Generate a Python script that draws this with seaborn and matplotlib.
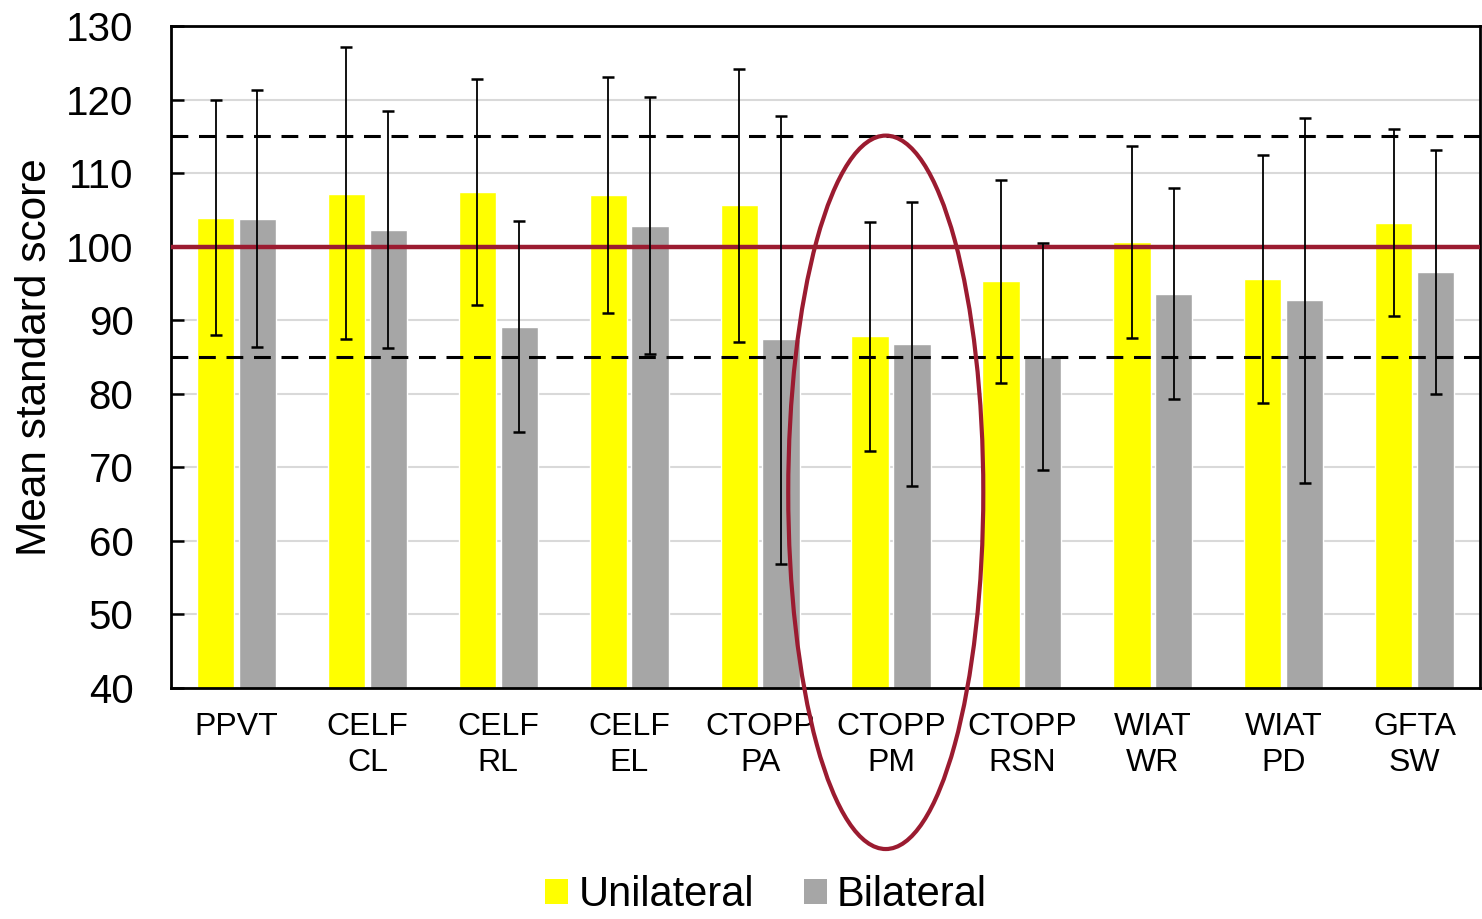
import numpy as np
import pandas as pd
import matplotlib
matplotlib.use("Agg")
import matplotlib.pyplot as plt
from matplotlib.patches import Ellipse
import seaborn as sns

categories = ["PPVT", "CELF\nCL", "CELF\nRL", "CELF\nEL", "CTOPP\nPA", "CTOPP\nPM",
              "CTOPP\nRSN", "WIAT\nWR", "WIAT\nPD", "GFTA\nSW"]
groups = ["Unilateral", "Bilateral"]

uni_mean = [103.9, 107.2, 107.4, 107.0, 105.6, 87.8, 95.3, 100.6, 95.6, 103.2]
uni_low  = [88.0, 87.5, 92.1, 91.0, 87.1, 72.2, 81.5, 87.6, 78.8, 90.55]
uni_high = [120.0, 127.15, 122.85, 123.0, 124.1, 103.35, 109.1, 113.7, 112.5, 116.0]

bi_mean = [103.8, 102.2, 89.1, 102.8, 87.4, 86.8, 85.0, 93.6, 92.7, 96.5]
bi_low  = [86.4, 86.2, 74.8, 85.4, 56.9, 67.5, 69.7, 79.25, 67.8, 80.0]
bi_high = [121.3, 118.4, 103.45, 120.4, 117.8, 106.1, 100.5, 108.0, 117.55, 113.1]

y_ticks = [40, 50, 60, 70, 80, 90, 100, 110, 120, 130]
ref_mean = 100
ref_band = [85, 115]

colors = {"Unilateral": "#FFFF00", "Bilateral": "#A6A6A6"}
red = "#9B1B30"

df = pd.DataFrame({
    "test": categories * 2,
    "group": [groups[0]] * len(categories) + [groups[1]] * len(categories),
    "score": uni_mean + bi_mean,
})

sns.set_theme(style="white")
plt.rcParams["font.family"] = ["Liberation Sans", "DejaVu Sans"]
plt.rcParams["text.color"] = "black"
plt.rcParams["axes.labelcolor"] = "black"
plt.rcParams["xtick.color"] = "black"
plt.rcParams["ytick.color"] = "black"

fig = plt.figure(figsize=(14.82, 9.19), dpi=100)
ax = fig.add_axes([0.1154, 0.2514, 0.8833, 0.7203])

sns.barplot(data=df, x="test", y="score", hue="group", order=categories,
            hue_order=groups, palette=colors, width=0.64, gap=0.11,
            errorbar=None, saturation=1, ax=ax, zorder=2, legend=True)

ax.set_ylim(40, 130)
ax.set_xlim(-0.5, len(categories) - 0.5)

# error bars at bar centers
for cont, means, lows, highs in zip(ax.containers, [uni_mean, bi_mean],
                                    [uni_low, bi_low], [uni_high, bi_high]):
    xs = [p.get_x() + p.get_width() / 2 for p in cont.patches]
    m = np.array(means)
    yerr = np.vstack([m - np.array(lows), np.array(highs) - m])
    ax.errorbar(xs, m, yerr=yerr, fmt="none", ecolor="black", elinewidth=1.3,
                capsize=4.3, capthick=1.8, zorder=4)

# grid
ax.set_yticks(y_ticks)
ax.yaxis.grid(True, color="#D9D9D9", linewidth=1.5, zorder=0)
ax.xaxis.grid(False)
ax.set_axisbelow(True)

# reference lines
ax.axhline(ref_mean, color=red, linewidth=3.2, zorder=3)
for v in ref_band:
    ax.axhline(v, color="black", linewidth=2.2, dashes=(5.5, 3.5), zorder=3)

# ellipse around CTOPP PM
ell = Ellipse((4.96, 66.6), width=1.49, height=97, fill=False, edgecolor=red,
              linewidth=3.0, zorder=5, clip_on=False)
ax.add_patch(ell)

for s in ax.spines.values():
    s.set_visible(True)
    s.set_color("black")
    s.set_linewidth(2.0)

ax.tick_params(axis="y", direction="in", length=9, width=1.8, color="black",
               labelsize=29, pad=27, left=True, labelcolor="black")
ax.tick_params(axis="x", length=0, labelsize=23, pad=17, labelcolor="black")
for lbl in ax.get_xticklabels():
    lbl.set_linespacing(1.3)

ax.set_xlabel("")
ax.set_ylabel("Mean standard score", fontsize=30.5, labelpad=8, color="black")

ax.legend_.remove()
handles = [plt.Rectangle((0, 0), 1, 1, facecolor=colors[g], edgecolor="none") for g in groups]
fig.legend(handles, groups, loc="center", bbox_to_anchor=(766 / 1482, 1 - 895 / 919),
           ncol=2, frameon=False, fontsize=30, handlelength=0.55, handleheight=0.55,
           handletextpad=0.25, columnspacing=1.2, borderpad=0, labelcolor="black")

fig.savefig("out.png", dpi=100)
